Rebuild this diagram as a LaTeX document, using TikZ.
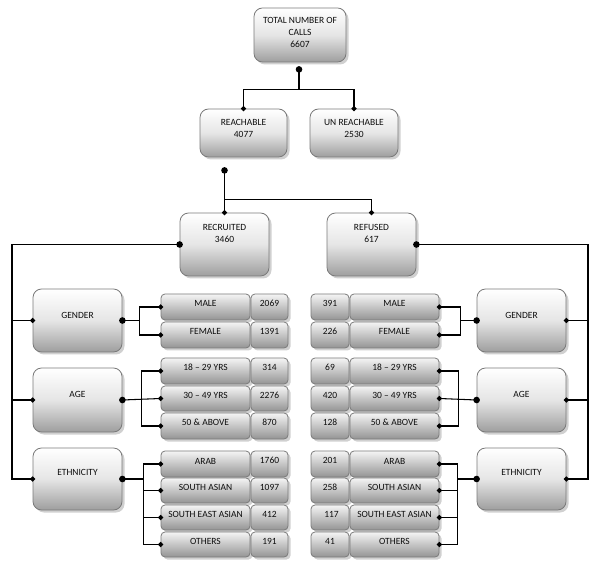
\documentclass[tikz,border=0pt]{standalone}
\usepackage{fontspec}
\setmainfont{Carlito}
\usetikzlibrary{arrows.meta,calc,fit,shadows}
\begin{document}
\begin{tikzpicture}[x=0.2mm,y=-0.2mm,
  font=\fontsize{5.4}{6.8}\selectfont,
  boxbase/.style={draw=black!52, line width=0.45pt, top color=white, bottom color=black!38,
     middle color=black!10, inner sep=0pt, text=black!95,
     drop shadow={shadow xshift=0.5mm, shadow yshift=-0.5mm, opacity=0.3, fill=black!60}},
  bigbox/.style={boxbase, rounded corners=1.7mm},
  sbox/.style={boxbase, rounded corners=0.8mm, top color=black!4, middle color=black!14, bottom color=black!42},
  numR/.style={sbox, text width=4.4mm, align=left},
  lbl/.style={inner sep=0pt, align=center, text=black!95},
  conn/.style={line width=0.6pt, black},
  src/.style={{Circle[length=1.3mm,width=1.3mm]}-, shorten <=-0.65mm},
  dst/.style={-{Diamond[length=1.1mm,width=1.1mm]}, shorten >=-0.55mm},
  srcdst/.style={{Circle[length=1.3mm,width=1.3mm]}-{Diamond[length=1.1mm,width=1.1mm]}, shorten <=-0.65mm, shorten >=-0.55mm},
]
\useasboundingbox[fill=white] (0,0) rectangle (600,570);

% top levels
\node[bigbox, fit={(254,8) (346,62)}] (tot) {};
\node[lbl, anchor=north] (totT) at (300,17) {TOTAL NUMBER OF\\CALLS\\6607};
\node[bigbox, fit={(200,109) (287,157)}] (reach) {};
\node[lbl, anchor=north] (reachT) at (243.5,119) {REACHABLE\\4077};
\node[bigbox, fit={(310,109) (398,157)}] (unreach) {};
\node[lbl, anchor=north] (unreachT) at (354,119) {UN REACHABLE\\2530};
\node[bigbox, fit={(180,213) (269,276)}] (rec) {};
\node[lbl, anchor=north] (recT) at (224.5,224) {RECRUITED\\3460};
\node[bigbox, fit={(327,213) (416,276)}] (ref) {};
\node[lbl, anchor=north] (refT) at (371.5,224) {REFUSED\\617};

% category boxes
\node[bigbox, fit={(33,289) (122,352)}] (genL) {};
\node[lbl, anchor=north] (genLT) at (77.5,312) {GENDER};
\node[bigbox, fit={(33,368) (122,432)}] (ageL) {};
\node[lbl, anchor=north] (ageLT) at (77.5,391) {AGE};
\node[bigbox, fit={(33,448) (122,510)}] (ethL) {};
\node[lbl, anchor=north] (ethLT) at (77.5,469) {ETHNICITY};
\node[bigbox, fit={(477,289) (566,352)}] (genR) {};
\node[lbl, anchor=north] (genRT) at (521.5,312) {GENDER};
\node[bigbox, fit={(477,368) (566,432)}] (ageR) {};
\node[lbl, anchor=north] (ageRT) at (521.5,391) {AGE};
\node[bigbox, fit={(477,448) (566,510)}] (ethR) {};
\node[lbl, anchor=north] (ethRT) at (521.5,469) {ETHNICITY};

% left value boxes
\node[sbox, fit={(161,294) (250,320)}] (mL) {MALE};
\node[sbox, fit={(251,294) (288,320)}] (mLn) {2069};
\node[sbox, fit={(161,322) (250,348)}] (fL) {FEMALE};
\node[sbox, fit={(251,322) (288,348)}] (fLn) {1391};
\node[sbox, fit={(161,358) (250,384)}] (a1L) {18 -- 29 YRS};
\node[sbox, fit={(251,358) (288,384)}] (a1Ln) {314};
\node[sbox, fit={(161,386) (250,411)}] (a2L) {30 -- 49 YRS};
\node[sbox, fit={(251,386) (288,411)}] (a2Ln) {2276};
\node[sbox, fit={(161,413) (250,439)}] (a3L) {50 \& ABOVE};
\node[sbox, fit={(251,413) (288,439)}] (a3Ln) {870};
\node[sbox, fit={(161,451) (250,477)}] (e1L) {ARAB};
\node[sbox, fit={(251,451) (288,477)}] (e1Ln) {1760};
\node[sbox, fit={(161,478) (250,503)}] (e2L) {SOUTH ASIAN};
\node[sbox, fit={(251,478) (288,503)}] (e2Ln) {1097};
\node[sbox, fit={(161,505) (250,530)}] (e3L) {SOUTH EAST ASIAN};
\node[sbox, fit={(251,505) (288,530)}] (e3Ln) {412};
\node[sbox, fit={(161,532) (250,557)}] (e4L) {OTHERS};
\node[sbox, fit={(251,532) (288,557)}] (e4Ln) {191};

% right value boxes
\node[numR, fit={(311,294) (349,320)}] (mRn) {391};
\node[sbox, fit={(350,294) (439,320)}] (mR) {MALE};
\node[numR, fit={(311,322) (349,348)}] (fRn) {226};
\node[sbox, fit={(350,322) (439,348)}] (fR) {FEMALE};
\node[numR, fit={(311,358) (349,384)}] (a1Rn) {69};
\node[sbox, fit={(350,358) (439,384)}] (a1R) {18 -- 29 YRS};
\node[numR, fit={(311,386) (349,411)}] (a2Rn) {420};
\node[sbox, fit={(350,386) (439,411)}] (a2R) {30 -- 49 YRS};
\node[numR, fit={(311,413) (349,439)}] (a3Rn) {128};
\node[sbox, fit={(350,413) (439,439)}] (a3R) {50 \& ABOVE};
\node[numR, fit={(311,451) (349,477)}] (e1Rn) {201};
\node[sbox, fit={(350,451) (439,477)}] (e1R) {ARAB};
\node[numR, fit={(311,478) (349,503)}] (e2Rn) {258};
\node[sbox, fit={(350,478) (439,503)}] (e2R) {SOUTH ASIAN};
\node[numR, fit={(311,505) (349,530)}] (e3Rn) {\hspace*{0.6mm}117};
\node[sbox, fit={(350,505) (439,530)}] (e3R) {SOUTH EAST ASIAN};
\node[numR, fit={(311,532) (349,557)}] (e4Rn) {41};
\node[sbox, fit={(350,532) (439,557)}] (e4R) {OTHERS};

% connectors: top
\coordinate (tj) at ($(tot.south)+(-1,27)$);
\draw[conn, srcdst] ($(tot.south)+(-1,7)$) -- (tj) -| (reach.north);
\draw[conn, dst] (tj) -| (unreach.north);
\coordinate (rj) at ($(rec.north)+(0,-13)$);
\draw[conn, srcdst] ($(rec.north|-reach.south)+(0,13)$) -- (rec.north);
\draw[conn, dst] (rj) -| (ref.north);

% left trunk
\coordinate (LX) at (12,0);
\draw[conn, srcdst] (rec.west) -- (rec.west -| LX) |- (ethL.west);
\draw[conn, dst] (genL.west -| LX) -- (genL.west);
\draw[conn, dst] (ageL.west -| LX) -- (ageL.west);
% right trunk
\coordinate (RX) at (588,0);
\draw[conn, srcdst] (ref.east) -- (ref.east -| RX) |- (ethR.east);
\draw[conn, dst] (genR.east -| RX) -- (genR.east);
\draw[conn, dst] (ageR.east -| RX) -- (ageR.east);

% left branches
\coordinate (gLj) at ($(genL.east)+(17,0)$);
\draw[conn, src] (genL.east) -- (gLj);
\draw[conn, dst] (gLj) |- (mL.west);
\draw[conn, dst] (gLj) |- (fL.west);
\coordinate (aLj) at ($(ageL.east)+(19,0)$);
\draw[conn, srcdst] (ageL.east) -- (a2L.west);
\draw[conn, dst] (aLj) |- (a1L.west);
\draw[conn, dst] (aLj) |- (a3L.west);
\coordinate (eLj) at ($(ethL.east)+(21,0)$);
\draw[conn, src] (ethL.east) -- (eLj);
\draw[conn, dst] (eLj) |- (e1L.west);
\draw[conn, dst] (eLj) |- (e2L.west);
\draw[conn, dst] (eLj) |- (e3L.west);
\draw[conn, dst] (eLj) |- (e4L.west);

% right branches
\coordinate (gRj) at ($(genR.west)+(-16,0)$);
\draw[conn, src] (genR.west) -- (gRj);
\draw[conn, dst] (gRj) |- (mR.east);
\draw[conn, dst] (gRj) |- (fR.east);
\coordinate (aRj) at ($(ageR.west)+(-18,0)$);
\draw[conn, srcdst] (ageR.west) -- (a2R.east);
\draw[conn, dst] (aRj) |- (a1R.east);
\draw[conn, dst] (aRj) |- (a3R.east);
\coordinate (eRj) at ($(ethR.west)+(-19,0)$);
\draw[conn, src] (ethR.west) -- (eRj);
\draw[conn, dst] (eRj) |- (e1R.east);
\draw[conn, dst] (eRj) |- (e2R.east);
\draw[conn, dst] (eRj) |- (e3R.east);
\draw[conn, dst] (eRj) |- (e4R.east);
\end{tikzpicture}
\end{document}
